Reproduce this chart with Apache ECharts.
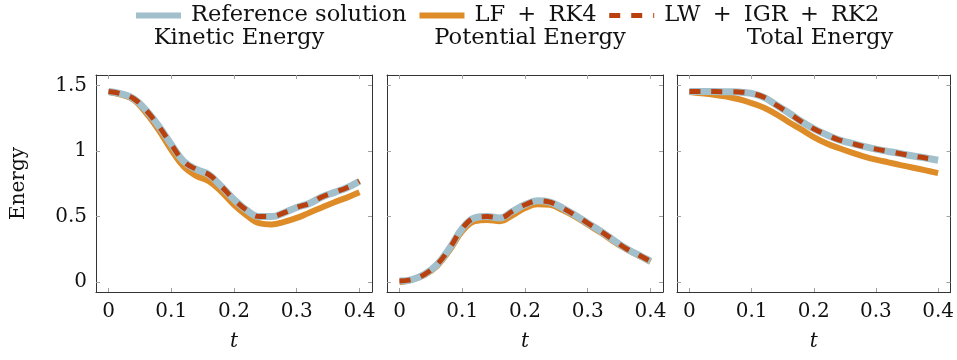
<!DOCTYPE html>
<html>
<head>
<meta charset="utf-8">
<script src="https://cdn.jsdelivr.net/npm/echarts@6/dist/echarts.min.js"></script>
<style>
	html, body { margin: 0; padding: 0; background: #fff; }
	#chart { width: 957px; height: 360px; }
</style>
</head>
<body>
<div id="chart"></div>
<script>
const t = [0, 0.02, 0.04, 0.06, 0.08, 0.1, 0.12, 0.14, 0.16, 0.18, 0.2, 0.22, 0.24, 0.26, 0.28, 0.3, 0.32, 0.34, 0.36, 0.38, 0.4];
const xTicks = [0, 0.1, 0.2, 0.3, 0.4];
const yTicks = [0, 0.5, 1, 1.5];
const panelTitles = ["Kinetic Energy", "Potential Energy", "Total Energy"];
const seriesNames = ["Reference solution", "LF + RK4", "LW + IGR + RK2"];

// kinetic energy
const kinRef = [1.454, 1.437, 1.40, 1.31, 1.19, 1.05, 0.92, 0.86, 0.82, 0.73, 0.63, 0.55, 0.50, 0.50, 0.53, 0.57, 0.60, 0.65, 0.685, 0.72, 0.77];
const kinLF = [1.45, 1.43, 1.39, 1.29, 1.16, 1.01, 0.88, 0.81, 0.77, 0.69, 0.59, 0.51, 0.45, 0.44, 0.46, 0.49, 0.53, 0.57, 0.61, 0.645, 0.685];
const kinLW = [1.454, 1.437, 1.40, 1.31, 1.19, 1.05, 0.92, 0.86, 0.82, 0.73, 0.63, 0.55, 0.50, 0.50, 0.53, 0.57, 0.60, 0.65, 0.685, 0.72, 0.77];

// potential energy
const potRef = [0.008, 0.02, 0.06, 0.135, 0.26, 0.41, 0.49, 0.50, 0.49, 0.54, 0.59, 0.62, 0.61, 0.565, 0.51, 0.45, 0.39, 0.325, 0.26, 0.21, 0.16];
const potLF = [0.0, 0.02, 0.055, 0.125, 0.245, 0.39, 0.465, 0.475, 0.465, 0.51, 0.565, 0.595, 0.59, 0.55, 0.50, 0.44, 0.38, 0.315, 0.255, 0.205, 0.155];
const potLW = [0.008, 0.02, 0.06, 0.135, 0.26, 0.41, 0.49, 0.50, 0.49, 0.54, 0.59, 0.62, 0.61, 0.565, 0.51, 0.45, 0.39, 0.325, 0.26, 0.21, 0.16];

// total energy
const totRef = [1.454, 1.454, 1.454, 1.452, 1.45, 1.44, 1.41, 1.35, 1.29, 1.225, 1.17, 1.125, 1.086, 1.06, 1.035, 1.015, 0.997, 0.98, 0.962, 0.947, 0.93];
const totLF = [1.45, 1.44, 1.43, 1.415, 1.395, 1.365, 1.33, 1.28, 1.22, 1.165, 1.107, 1.06, 1.023, 0.99, 0.96, 0.934, 0.914, 0.893, 0.873, 0.853, 0.832];
const totLW = [1.454, 1.454, 1.454, 1.452, 1.45, 1.44, 1.41, 1.35, 1.29, 1.225, 1.17, 1.125, 1.086, 1.06, 1.035, 1.015, 0.997, 0.98, 0.962, 0.947, 0.93];

const panels = [
	[kinRef, kinLF, kinLW],
	[potRef, potLF, potLW],
	[totRef, totLF, totLW],
];

const colRef = "#a2c0cb";
const colLF = "#dd8c27";
const colLW = "#b9400f";
const font = "DejaVu Serif";
const frame = "#333";
const tickCol = "#a0a0a0";
const bigText = 22.6;

const gridLefts = [96, 387, 677];
const gridTop = 75;
const gridW = 276;
const gridH = 217;
const dash = [11, 11];

const pairs = v => t.map((x, i) => [x, v[i]]);

const grid = [];
const xAxis = [];
const yAxis = [];
const series = [];
const title = [];

gridLefts.forEach((left, g) => {
	grid.push({ left, top: gridTop, width: gridW, height: gridH });
	title.push({
		text: panelTitles[g],
		left: left + gridW / 2,
		top: 22,
		textAlign: "center",
		textStyle: { fontFamily: font, fontWeight: "normal", fontSize: bigText, color: "#111" },
	});
	const baseX = {
		gridIndex: g, type: "value", min: -0.02, max: 0.42,
		splitLine: { show: false },
		axisLine: { show: true, onZero: false, lineStyle: { color: frame, width: 1 } },
		axisTick: { show: true, inside: true, length: 4, customValues: xTicks, lineStyle: { color: tickCol } },
	};
	xAxis.push({
		...baseX, position: "bottom",
		axisLabel: { show: true, customValues: xTicks, margin: 10, fontFamily: font, fontSize: 20, color: "#111" },
		name: "t", nameLocation: "middle", nameGap: 40,
		nameTextStyle: { fontFamily: font, fontStyle: "italic", fontSize: 20, color: "#111" },
	});
	xAxis.push({ ...baseX, position: "top", axisLabel: { show: false } });
	const baseY = {
		gridIndex: g, type: "value", min: -0.075, max: 1.58,
		splitLine: { show: false },
		axisLine: { show: true, onZero: false, lineStyle: { color: frame, width: 1 } },
		axisTick: { show: true, inside: true, length: 4, customValues: yTicks, lineStyle: { color: tickCol } },
	};
	yAxis.push({
		...baseY, position: "left",
		axisLabel: { show: g === 0, customValues: yTicks, margin: 9, fontFamily: font, fontSize: 20, color: "#111" },
		name: g === 0 ? "Energy" : "", nameLocation: "middle", nameGap: 67, nameRotate: 90,
		nameTextStyle: { fontFamily: font, fontSize: 20, color: "#111" },
	});
	yAxis.push({ ...baseY, position: "right", axisLabel: { show: false } });

	const [ref, lf, lw] = panels[g];
	const xi = g * 2;
	const yi = g * 2;
	series.push({
		name: seriesNames[1], type: "line", xAxisIndex: xi, yAxisIndex: yi, data: pairs(lf),
		smooth: 0.4, showSymbol: false, symbol: "none", color: colLF,
		lineStyle: { color: colLF, width: 6 }, z: 2,
	});
	series.push({
		name: seriesNames[0], type: "line", xAxisIndex: xi, yAxisIndex: yi, data: pairs(ref),
		smooth: 0.4, showSymbol: false, symbol: "none", color: colRef,
		lineStyle: { color: colRef, width: 7 }, z: 3,
	});
	series.push({
		name: seriesNames[2], type: "line", xAxisIndex: xi, yAxisIndex: yi, data: pairs(lw),
		smooth: 0.4, showSymbol: false, symbol: "none", color: colLW,
		lineStyle: { color: colLW, width: 5, type: dash, cap: "butt" }, z: 4,
	});
});

const chart = echarts.init(document.getElementById("chart"), null, { renderer: "canvas" });
chart.setOption({
	animation: false,
	backgroundColor: "#fff",
	title,
	legend: {
		top: -1,
		left: 128,
		itemWidth: 45,
		itemHeight: 14,
		itemGap: 10,
		itemStyle: { opacity: 0 },
		// math-mode spacing around "+"
		formatter: name => "{s|}" + name.split(" + ").join(" {p|+} "),
		textStyle: {
			fontFamily: font, fontSize: bigText, color: "#111",
			rich: {
				s: { width: 5 },
				p: { fontFamily: font, fontSize: bigText, color: "#111", padding: [0, 5, 0, 5] },
			},
		},
		data: [
			{ name: seriesNames[0], lineStyle: { width: 6 } },
			{ name: seriesNames[1], lineStyle: { width: 6 } },
			{ name: seriesNames[2], lineStyle: { width: 5, type: dash } },
		],
	},
	grid,
	xAxis,
	yAxis,
	series,
});
</script>
</body>
</html>
